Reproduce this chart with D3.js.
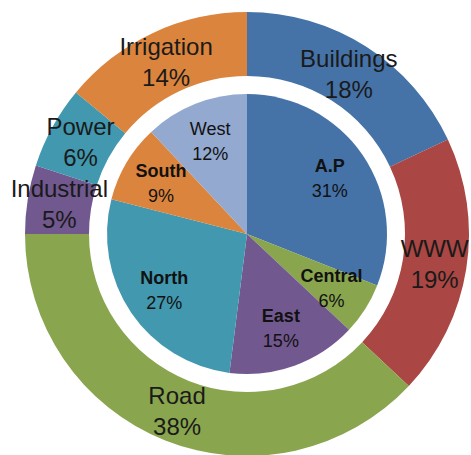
<!DOCTYPE html>
<html>
<head>
<meta charset="utf-8">
<script src="https://cdn.jsdelivr.net/npm/d3@7"></script>
<style>
  body { margin: 0; background: #fff; }
  svg { display: block; font-family: "Liberation Sans", Arial, sans-serif; }
</style>
</head>
<body>
<div id="chart"></div>
<script>
// outer ring: sectors
const sectorNames = ['Buildings', 'WWW', 'Road', 'Industrial', 'Power', 'Irrigation'];
const sectorValues = [18, 19, 38, 5, 6, 14];
const sectorColors = ['#4572A7', '#AA4643', '#89A54E', '#71588F', '#4198AF', '#DB843D'];

// inner pie: regions
const regionNames = ['A.P', 'Central', 'East', 'North', 'South', 'West'];
const regionValues = [31, 6, 15, 27, 9, 12];
const regionColors = ['#4572A7', '#89A54E', '#71588F', '#4198AF', '#DB843D', '#93A9CF'];

const width = 471, height = 455;
const cx = 247, cy = 234;

const svg = d3.select('#chart').append('svg')
    .attr('width', width)
    .attr('height', height);

const g = svg.append('g')
    .attr('transform', `translate(${cx},${cy})`);

const pie = d3.pie().sort(null).value(d => d.value);

const outerData = pie(sectorNames.map((n, i) => ({name: n, value: sectorValues[i], color: sectorColors[i]})));
const innerData = pie(regionNames.map((n, i) => ({name: n, value: regionValues[i], color: regionColors[i]})));

const outerArc = d3.arc().innerRadius(158).outerRadius(222);
const outerLabelArc = d3.arc().innerRadius(190).outerRadius(190);
const innerArc = d3.arc().innerRadius(0).outerRadius(140);
const innerLabelArc = d3.arc().innerRadius(100).outerRadius(100);

g.append('g').selectAll('path')
    .data(outerData)
    .join('path')
    .attr('d', outerArc)
    .attr('fill', d => d.data.color);

g.append('g').selectAll('path')
    .data(innerData)
    .join('path')
    .attr('d', innerArc)
    .attr('fill', d => d.data.color);

// outer labels
const ol = g.append('g').selectAll('text')
    .data(outerData)
    .join('text')
    .attr('text-anchor', 'middle')
    .attr('font-size', 24)
    .attr('fill', '#1a1a1a')
    .attr('transform', d => `translate(${outerLabelArc.centroid(d)})`);
ol.append('tspan').attr('x', 0).attr('y', -7).text(d => d.data.name);
ol.append('tspan').attr('x', 0).attr('y', 24).text(d => d.data.value + '%');

// inner labels
const boldNames = ['South', 'North', 'East', 'Central', 'A.P'];
const il = g.append('g').selectAll('text')
    .data(innerData)
    .join('text')
    .attr('text-anchor', 'middle')
    .attr('font-size', 18)
    .attr('fill', '#111')
    .attr('transform', d => `translate(${innerLabelArc.centroid(d)})`);
il.append('tspan').attr('x', 0).attr('y', -6)
    .attr('font-weight', d => boldNames.includes(d.data.name) ? 'bold' : 'normal')
    .text(d => d.data.name);
il.append('tspan').attr('x', 0).attr('y', 19).text(d => d.data.value + '%');
</script>
</body>
</html>
